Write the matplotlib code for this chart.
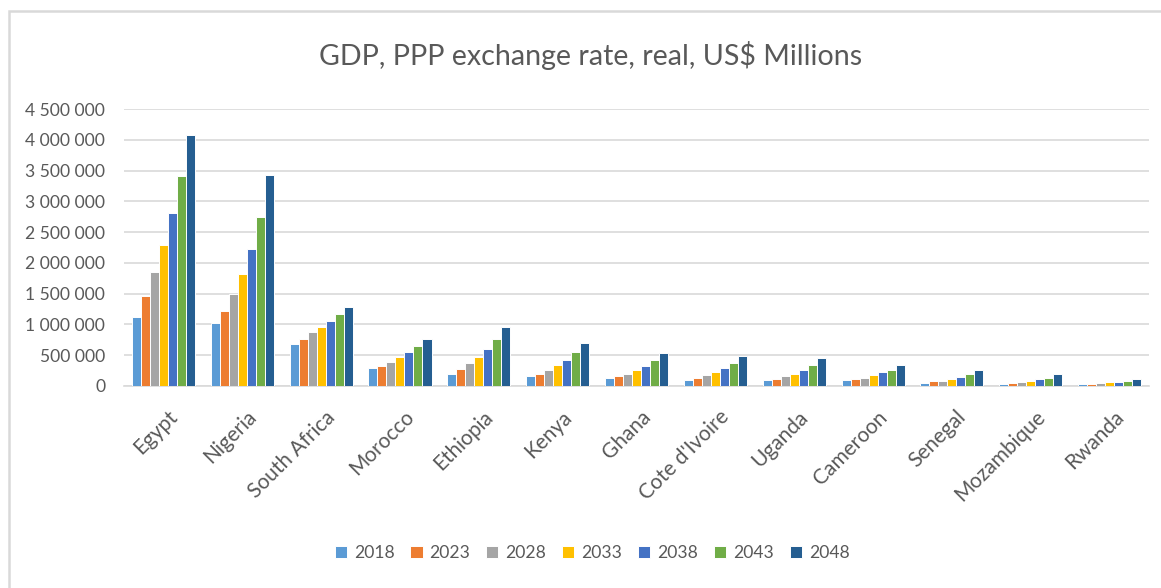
import matplotlib
matplotlib.use("Agg")
import matplotlib.pyplot as plt
import numpy as np
from matplotlib.patches import Rectangle
from matplotlib.ticker import FuncFormatter

countries = ["Egypt", "Nigeria", "South Africa", "Morocco", "Ethiopia", "Kenya", "Ghana",
             "Cote d'Ivoire", "Uganda", "Cameroon", "Senegal", "Mozambique", "Rwanda"]
years = ["2018", "2023", "2028", "2033", "2038", "2043", "2048"]

v2018 = [1123000, 1016000, 679000, 285000, 194000, 156000, 134000, 97000, 97000, 97000, 48000, 28000, 25000]
v2023 = [1460000, 1216000, 765000, 322000, 279000, 194000, 156000, 134000, 113000, 113000, 75000, 49000, 28000]
v2028 = [1846000, 1488000, 874000, 387000, 366000, 258000, 194000, 177000, 156000, 134000, 88000, 65000, 45000]
v2033 = [2290000, 1823000, 955000, 468000, 468000, 344000, 263000, 221000, 194000, 177000, 109000, 88000, 65000]
v2038 = [2816000, 2225000, 1064000, 553000, 597000, 430000, 323000, 285000, 258000, 221000, 148000, 109000, 68000]
v2043 = [3408000, 2751000, 1167000, 656000, 758000, 553000, 430000, 366000, 344000, 263000, 190000, 130000, 88000]
v2048 = [4085000, 3430000, 1276000, 758000, 952000, 705000, 532000, 495000, 452000, 344000, 255000, 195000, 109000]

series = [v2018, v2023, v2028, v2033, v2038, v2043, v2048]
colors = ["#5B9BD5", "#ED7D31", "#A5A5A5", "#FFC000", "#4472C4", "#70AD47", "#255E91"]

font = "Lato"
txt = "#595959"

fig = plt.figure(figsize=(11.61, 5.88), dpi=100)
ax = fig.add_axes([124/1161, 202/588, 1025/1161, 277/588])

x = np.arange(len(countries))
n = len(series)
group = 0.8
w = group / n
for i, (vals, c, yr) in enumerate(zip(series, colors, years)):
    ax.bar(x - group/2 + w*(i+0.5), vals, width=w, color=c, edgecolor="white",
           linewidth=0.7, label=yr, zorder=3)

ax.set_xlim(-0.5, len(countries) - 0.5)
ax.set_ylim(0, 4500000)
ax.set_yticks(np.arange(0, 4500001, 500000))
ax.yaxis.set_major_formatter(FuncFormatter(lambda v, p: f"{int(v):,}".replace(",", " ")))
ax.grid(axis="y", color="#D9D9D9", linewidth=1.2, zorder=0)
for s in ["top", "right", "left"]:
    ax.spines[s].set_visible(False)
ax.spines["bottom"].set_color("#D9D9D9")
ax.spines["bottom"].set_linewidth(1.2)
ax.tick_params(axis="both", length=0, colors=txt, labelsize=12.6)
ax.tick_params(axis="y", pad=13.5)
for lab in ax.get_yticklabels():
    lab.set_fontfamily(font)
ax.set_xticks(x)
ax.set_xticklabels(countries, rotation=45, ha="right", va="top", rotation_mode="anchor",
                   fontfamily=font, fontsize=15, color=txt)
for lab in ax.get_xticklabels():
    lab.set_transform(lab.get_transform() + matplotlib.transforms.ScaledTranslation(4/100, -16/100, fig.dpi_scale_trans))

fig.text(591/1161, 1 - 55/588, "GDP, PPP exchange rate, real, US$ Millions", ha="center", va="center",
         fontsize=20.6, color=txt, fontfamily=font)

leg = fig.legend(loc="center", bbox_to_anchor=(592/1161, 1 - 553/588), ncol=7, frameon=False,
                 handlelength=0.7, handleheight=0.7, handletextpad=0.4, columnspacing=0.9,
                 prop={"family": font, "size": 12.6})
for t in leg.get_texts():
    t.set_color(txt)

fig.patches.append(Rectangle((8.5/1161, -0.05), 1.2, 1 - 10.5/588 + 0.05, transform=fig.transFigure,
                             fill=False, edgecolor="#D9D9D9", linewidth=1.8))

fig.savefig("out.png", dpi=100)
